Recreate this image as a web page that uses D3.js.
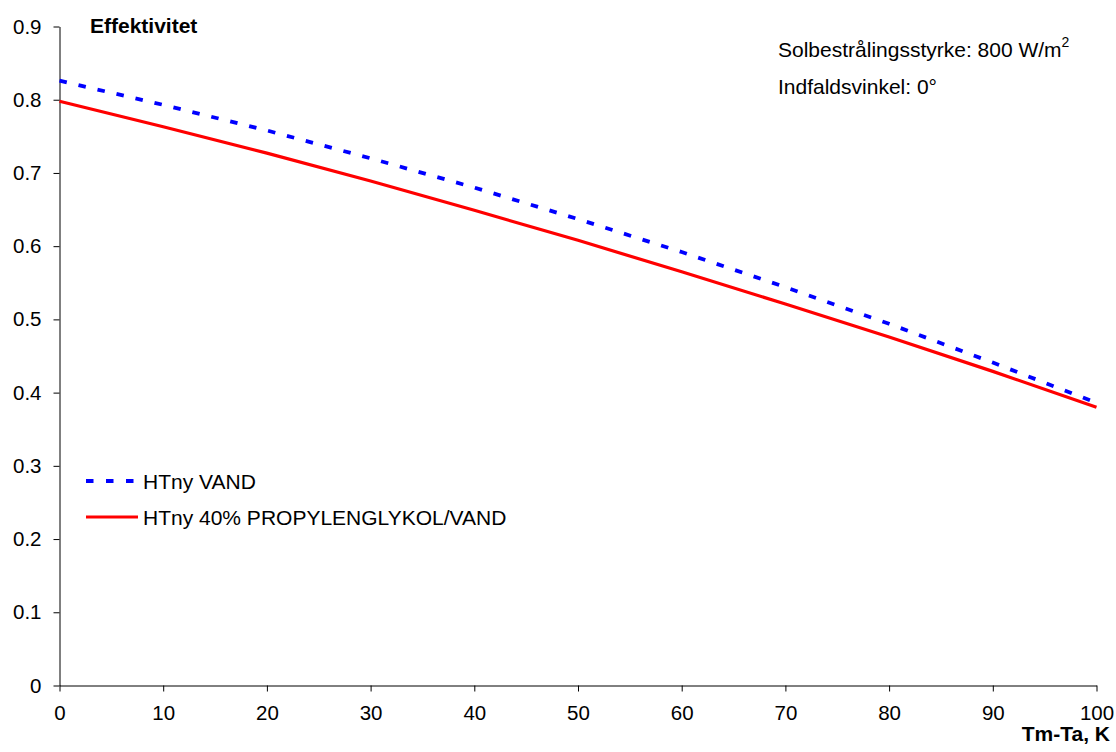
<!DOCTYPE html>
<html>
<head>
<meta charset="utf-8">
<script src="https://cdn.jsdelivr.net/npm/d3@7/dist/d3.min.js"></script>
<style>
  html, body { margin: 0; padding: 0; background: #fff; }
  svg { display: block; font-family: "Liberation Sans", Arial, sans-serif; }
</style>
</head>
<body>
<svg id="chart" width="1116" height="752"></svg>
<script>
// Temperature difference Tm-Ta (K)
const tempDiff = [0, 10, 20, 30, 40, 50, 60, 70, 80, 90, 100];
// Collector efficiency, water
const effWater = [0.826, 0.793, 0.758, 0.720, 0.680, 0.637, 0.592, 0.544, 0.494, 0.441, 0.386];
// Collector efficiency, 40% propylene glycol / water
const effGlycol = [0.798, 0.763, 0.727, 0.689, 0.649, 0.608, 0.565, 0.521, 0.476, 0.429, 0.380];

const xTicks = [0, 10, 20, 30, 40, 50, 60, 70, 80, 90, 100];
const yTicks = [0, 0.1, 0.2, 0.3, 0.4, 0.5, 0.6, 0.7, 0.8, 0.9];

const seriesNames = ["HTny VAND", "HTny 40% PROPYLENGLYKOL/VAND"];
const seriesColors = ["#0000ff", "#ff0000"];

const svg = d3.select("#chart");
const tickFont = 20.5;
const textFont = 21;

const x = d3.scaleLinear().domain([0, 100]).range([59.5, 1096.5]);
const y = d3.scaleLinear().domain([0, 0.9]).range([685.5, 26.5]);

// Axes
const xAxis = svg.append("g")
  .attr("transform", `translate(0,${y(0)})`)
  .call(d3.axisBottom(x).tickValues(xTicks).tickSize(6).tickSizeOuter(0).tickPadding(14)
        .tickFormat(d3.format("d")));
const yAxis = svg.append("g")
  .attr("transform", `translate(${x(0)},0)`)
  .call(d3.axisLeft(y).tickValues(yTicks).tickSize(6).tickSizeOuter(0).tickPadding(12)
        .tickFormat(d => d === 0 ? "0" : d3.format(".1f")(d)));

[xAxis, yAxis].forEach(g => {
  g.select(".domain").attr("stroke", "#000").attr("stroke-width", 1);
  g.selectAll(".tick line").attr("stroke", "#000");
  g.selectAll(".tick text").attr("font-size", tickFont).attr("fill", "#000")
    .attr("font-family", "Liberation Sans, Arial, sans-serif");
});

// Curves
const line = d3.line()
  .x((d, i) => x(tempDiff[i]))
  .y(d => y(d));

svg.append("path")
  .datum(effGlycol)
  .attr("d", line)
  .attr("fill", "none")
  .attr("stroke", seriesColors[1])
  .attr("stroke-width", 3.2);

svg.append("path")
  .datum(effWater)
  .attr("d", line)
  .attr("fill", "none")
  .attr("stroke", seriesColors[0])
  .attr("stroke-width", 3.8)
  .attr("stroke-dasharray", "7.5,12");

// Axis titles
svg.append("text")
  .attr("x", 90).attr("y", 33)
  .attr("font-size", textFont).attr("font-weight", "bold")
  .text("Effektivitet");

svg.append("text")
  .attr("x", 1110).attr("y", 741)
  .attr("text-anchor", "end")
  .attr("font-size", textFont).attr("font-weight", "bold")
  .text("Tm-Ta, K");

// Test conditions
const cond = svg.append("text")
  .attr("x", 778).attr("y", 57)
  .attr("font-size", textFont);
cond.append("tspan").text("Solbestrålingsstyrke: 800 W/m");
cond.append("tspan").attr("dy", -10).attr("font-size", 14).text("2");

svg.append("text")
  .attr("x", 778).attr("y", 94)
  .attr("font-size", textFont)
  .text("Indfaldsvinkel: 0°");

// Legend
const legend = svg.append("g");
const legendRows = [
  { y: 481, dash: "7.5,12.5", width: 3.8 },
  { y: 517, dash: null, width: 3.2 }
];
legendRows.forEach((r, i) => {
  legend.append("line")
    .attr("x1", 86).attr("x2", 138)
    .attr("y1", r.y).attr("y2", r.y)
    .attr("stroke", seriesColors[i])
    .attr("stroke-width", r.width)
    .attr("stroke-dasharray", r.dash);
  legend.append("text")
    .attr("x", 143).attr("y", r.y + 8)
    .attr("font-size", textFont)
    .text(seriesNames[i]);
});
</script>
</body>
</html>
